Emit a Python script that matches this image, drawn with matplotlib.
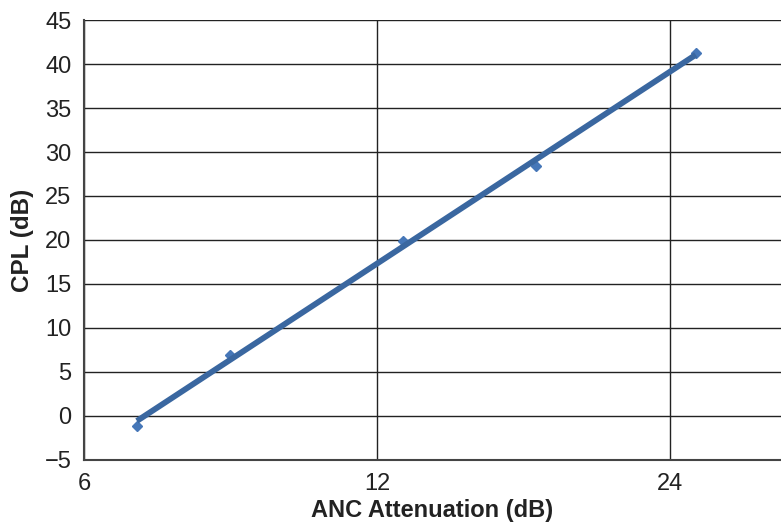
import numpy as np
import matplotlib.pyplot as plt
from matplotlib.ticker import FixedLocator, FixedFormatter, NullLocator

# Data
anc_attenuation = [6.8, 8.48, 12.77, 17.48, 25.5]
cpl = [-1.1, 6.9, 19.9, 28.4, 41.2]

x_ticks = [6, 12, 24]
x_tick_labels = ['6', '12', '24']
y_ticks = [-5, 0, 5, 10, 15, 20, 25, 30, 35, 40, 45]
y_tick_labels = ['\u22125', '0', '5', '10', '15', '20', '25', '30', '35', '40', '45']

plt.rcParams['font.family'] = ['Liberation Sans', 'DejaVu Sans']

fig = plt.figure(figsize=(7.81, 5.24), dpi=100)
ax = fig.add_axes([84 / 781, 64 / 524, 1 - 84 / 781, 440 / 524])

# Trend line, linear in log2(x)
lx = np.log2(anc_attenuation)
slope, intercept = np.polyfit(lx, cpl, 1)
fit_x = np.array([anc_attenuation[0], anc_attenuation[-1]])
fit_y = slope * np.log2(fit_x) + intercept

ax.plot(anc_attenuation, cpl, linestyle='none', marker='D', markersize=5,
        color='#4677b8', zorder=3)
ax.plot(fit_x, fit_y, color='#3a67a0', linewidth=4.2, solid_capstyle='butt', zorder=4)

ax.set_xscale('log', base=2)
ax.set_xlim(6, 31.2)
ax.set_ylim(-5, 45)

ax.xaxis.set_major_locator(FixedLocator(x_ticks))
ax.xaxis.set_major_formatter(FixedFormatter(x_tick_labels))
ax.xaxis.set_minor_locator(NullLocator())
ax.yaxis.set_major_locator(FixedLocator(y_ticks))
ax.yaxis.set_major_formatter(FixedFormatter(y_tick_labels))

ax.grid(True, color='#222222', linewidth=1.0)
ax.set_axisbelow(True)

ax.tick_params(axis='both', length=0, labelsize=17, colors='#222222')
ax.tick_params(axis='x', pad=9)
ax.tick_params(axis='y', pad=9)

for side in ['top', 'right']:
    ax.spines[side].set_visible(False)
for side in ['left', 'bottom']:
    ax.spines[side].set_color('#444444')
    ax.spines[side].set_linewidth(1.5)

ax.set_xlabel('ANC Attenuation (dB)', fontsize=17, fontweight='bold', color='#222222', labelpad=3)
ax.set_ylabel('CPL (dB)', fontsize=17.5, fontweight='bold', color='#222222', labelpad=8)

fig.savefig('out.png', dpi=100)
